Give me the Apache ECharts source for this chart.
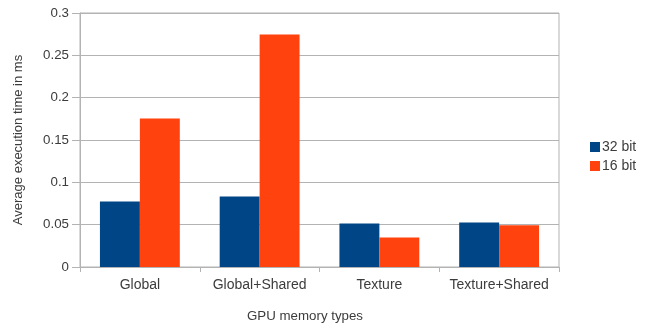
<!DOCTYPE html>
<html>
<head>
<meta charset="utf-8">
<script src="https://cdn.jsdelivr.net/npm/echarts@6/dist/echarts.min.js"></script>
<style>
  html, body { margin: 0; padding: 0; background: #fff; }
  #chart { width: 646px; height: 323px; }
</style>
</head>
<body>
<div id="chart"></div>
<script>
// Memory types tested and measured average kernel times (ms)
const categories = ['Global', 'Global+Shared', 'Texture', 'Texture+Shared'];
const seriesNames = ['32 bit', '16 bit'];
const time32 = [0.0775, 0.0833, 0.0514, 0.0526];
const time16 = [0.1755, 0.2745, 0.0349, 0.0494];
const yTicks = [0, 0.05, 0.1, 0.15, 0.2, 0.25, 0.3];

const FONT = '"Liberation Sans", Arial, sans-serif';
const TEXT = '#3c3c3c';
const LINE = '#b3b3b3';

const chart = echarts.init(document.getElementById('chart'));
chart.setOption({
  animation: false,
  textStyle: { fontFamily: FONT },
  title: {
    text: 'GPU memory types',
    left: 242,
    top: 305,
    textStyle: { fontFamily: FONT, fontSize: 13.3, fontWeight: 'normal', color: TEXT }
  },
  legend: {
    orient: 'vertical',
    left: 585,
    top: 135,
    itemWidth: 10,
    itemHeight: 10,
    itemGap: 5,
    icon: 'rect',
    data: seriesNames,
    textStyle: { fontFamily: FONT, fontSize: 14, color: TEXT, padding: [0, 0, 0, -3] }
  },
  grid: {
    left: 80, top: 13, width: 479, height: 254,
    show: true, borderColor: LINE, borderWidth: 1, backgroundColor: 'transparent'
  },
  xAxis: {
    type: 'category',
    data: categories,
    axisLine: { lineStyle: { color: LINE } },
    axisTick: { show: true, length: 5, lineStyle: { color: LINE } },
    axisLabel: { color: TEXT, fontFamily: FONT, fontSize: 14, margin: 11, interval: 0 }
  },
  yAxis: {
    type: 'value',
    min: yTicks[0],
    max: yTicks[yTicks.length - 1],
    interval: 0.05,
    name: 'Average execution time in ms',
    nameLocation: 'middle',
    nameGap: 55,
    nameTextStyle: { color: TEXT, fontFamily: FONT, fontSize: 13 },
    axisLine: { show: true, lineStyle: { color: LINE } },
    axisTick: { show: true, length: 8, lineStyle: { color: LINE } },
    axisLabel: {
      color: TEXT, fontFamily: FONT, fontSize: 13.3, margin: 11,
      formatter: v => String(Math.round(v * 100) / 100)
    },
    splitLine: { lineStyle: { color: LINE } }
  },
  series: [
    {
      name: seriesNames[0], type: 'bar', data: time32,
      itemStyle: { color: '#004586' },
      barGap: '0%', barCategoryGap: '33.3%'
    },
    {
      name: seriesNames[1], type: 'bar', data: time16,
      itemStyle: { color: '#ff420e' },
      barGap: '0%', barCategoryGap: '33.3%'
    }
  ]
});
</script>
</body>
</html>
